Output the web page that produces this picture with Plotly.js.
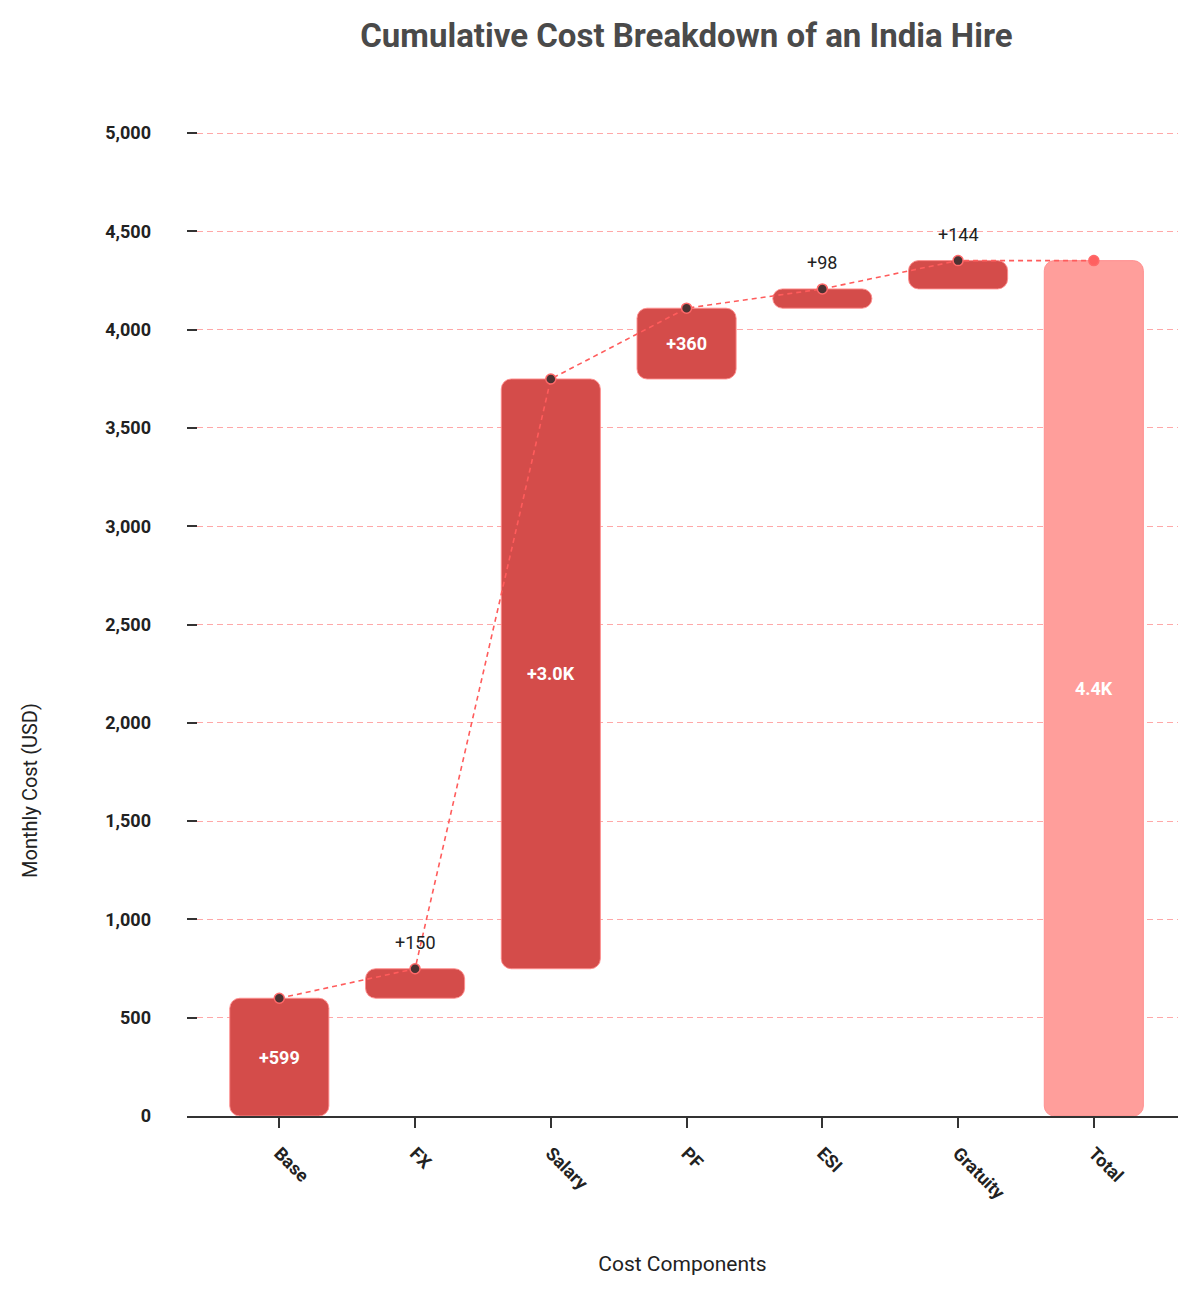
<!DOCTYPE html>
<html>
<head>
<meta charset="utf-8">
<script src="https://cdn.plot.ly/plotly-3.0.1.min.js"></script>
<style>
  html, body { margin: 0; padding: 0; background: #fff; }
  #chart { width: 1200px; height: 1297px; }
</style>
</head>
<body>
<div id="chart"></div>
<script>
// cost components, in USD per month
var categories = ['Base', 'FX', 'Salary', 'PF', 'ESI', 'Gratuity', 'Total'];
var increments = [599, 150, 3000, 360, 98, 144];
var barLabels = ['+599', '+150', '+3.0K', '+360', '+98', '+144', '4.4K'];
var labelInside = [true, false, true, true, false, false, true];

// running totals
var ends = [], bases = [];
var run = 0;
increments.forEach(v => { bases.push(run); run += v; ends.push(run); });
var total = run;

var barBase = bases.concat([0]);
var barHeight = increments.concat([total]);
var pointY = ends.concat([total]);

var stepColor = '#d44c4a', totalColor = '#ff9e9b';
var barColors = categories.map((c, i) => i == categories.length - 1 ? totalColor : stepColor);

var bars = {
    type: 'bar', x: categories, y: barHeight, base: barBase,
    marker: {color: barColors, cornerradius: 10, line: {color: 'rgba(255,140,140,0.9)', width: 1}},
    text: barLabels.map((t, i) => labelInside[i] ? t : ''),
    textposition: 'inside', insidetextanchor: 'middle',
    textfont: {family: 'Roboto', size: 18, color: '#ffffff', weight: 'bold'},
    hoverinfo: 'skip', showlegend: false,
};

var path = {
    type: 'scatter', x: categories, y: pointY, mode: 'lines+markers',
    line: {color: '#ff5c5c', width: 1.6, dash: '5px,4px'},
    marker: {
        size: 10,
        color: categories.map((c, i) => i == categories.length - 1 ? '#ff6060' : '#4a3232'),
        line: {color: '#ff6a6a', width: 1.5},
    },
    hoverinfo: 'skip', showlegend: false,
};

var notes = [];
categories.forEach((c, i) => {
    if (!labelInside[i]) {
        notes.push({x: c, y: pointY[i], text: barLabels[i], showarrow: false, yshift: 26,
            font: {family: 'Roboto', size: 18, color: '#222'}});
    }
});
// y axis title, placed as in the reference
notes.push({xref: 'paper', yref: 'paper', x: 0, y: 0.32, xshift: -157, xanchor: 'center', yanchor: 'middle',
    textangle: -90, showarrow: false, text: 'Monthly Cost (USD)',
    font: {family: 'Roboto', size: 20, color: '#222'}});

var layout = {
    width: 1200, height: 1297,
    title: {text: 'Cumulative Cost Breakdown of an India Hire', x: 0.572, xanchor: 'center',
        y: 0.973, yanchor: 'middle',
        font: {family: 'Roboto', size: 33, color: '#4a4a4a', weight: 'bold'}},
    margin: {l: 187, r: 22, t: 100, b: 181},
    bargap: 0.27,
    plot_bgcolor: '#fff', paper_bgcolor: '#fff',
    font: {family: 'Roboto', color: '#222'},
    xaxis: {
        type: 'category', range: [-0.68, 6.62],
        showline: true, linecolor: '#333', linewidth: 1.5,
        ticks: 'outside', ticklen: 10, tickcolor: '#333', tickwidth: 1.5,
        ticklabelstandoff: 8,
        tickangle: 45, tickfont: {size: 18, color: '#222', weight: 'bold'},
        showgrid: false,
        title: {text: 'Cost Components', standoff: 54, font: {size: 21, color: '#222'}},
    },
    yaxis: {
        range: [0, 5168], tickvals: [0, 500, 1000, 1500, 2000, 2500, 3000, 3500, 4000, 4500, 5000],
        tickformat: ',d', zeroline: false, showline: false,
        ticks: 'inside', ticklen: 10, tickcolor: '#333', tickwidth: 1.5,
        ticklabelstandoff: 35,
        tickfont: {size: 18, color: '#222', weight: 'bold'},
        showgrid: true, gridcolor: '#ffa8a8', griddash: '6px,4px', gridwidth: 1,
    },
    annotations: notes,
};

Plotly.newPlot('chart', [bars, path], layout, {displayModeBar: false});
</script>
</body>
</html>
